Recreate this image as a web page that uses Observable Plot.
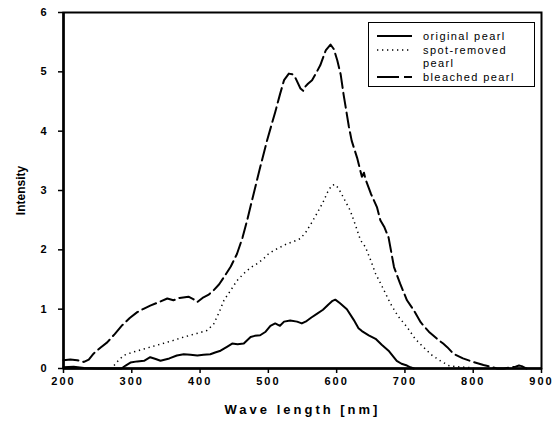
<!DOCTYPE html>
<html>
<head>
<meta charset="utf-8">
<script src="https://cdn.jsdelivr.net/npm/d3@7"></script>
<script src="https://cdn.jsdelivr.net/npm/@observablehq/plot@0.6"></script>
<style>
  html, body { margin: 0; padding: 0; background: #fff; }
  #wrap { position: relative; width: 553px; height: 428px; }
  g[aria-label="x-axis tick label"] text { letter-spacing: 2px; }
  g[aria-label="x-axis label"] text { font-size: 13px; letter-spacing: 3px; }
  g[aria-label="y-axis label"] text { font-size: 12px; }
  #legend { position: absolute; left: 368px; top: 22px; width: 167px; height: 65px;
    border: 1px solid #000; background: #fff; box-sizing: border-box;
    font-family: Arial, "Liberation Sans", sans-serif; font-size: 11px; letter-spacing: 1.4px; color: #000; }
  #legend svg { position: absolute; left: 8px; }
  #legend span { position: absolute; left: 54px; white-space: nowrap; line-height: 13px; }
</style>
</head>
<body>
<div id="wrap"></div>
<script>
// Wavelength (nm) / intensity points, per series
const originalX = [200,215,230,250,270,285,291,298,308,318,327,335,342,355,366,376,386,396,405,415,422,430,440,447,455,464,474,480,488,496,503,510,517,523,532,542,549,556,563,571,580,588,594,598,605,615,625,632,637,647,657,666,676,683,688,695,703,708,713];
const originalY = [0.02,0.03,0.01,0.0,0.0,0.0,0.05,0.10,0.12,0.13,0.19,0.16,0.13,0.17,0.22,0.24,0.23,0.22,0.23,0.24,0.27,0.30,0.37,0.42,0.41,0.42,0.53,0.55,0.56,0.62,0.72,0.76,0.72,0.79,0.81,0.79,0.76,0.80,0.86,0.92,0.99,1.08,1.14,1.16,1.10,1.00,0.82,0.68,0.63,0.56,0.50,0.40,0.30,0.20,0.13,0.08,0.05,0.02,0.0];

const spotX = [274,280,288,300,315,327,345,360,376,395,410,420,428,435,445,454,464,474,484,493,500,508,515,527,537,547,555,563,571,580,587,593,598,603,610,620,628,635,642,650,657,668,679,690,703,715,727,740,752,764,775,790,800];
const spotY = [0.05,0.13,0.22,0.27,0.32,0.36,0.42,0.47,0.53,0.59,0.64,0.75,0.95,1.15,1.32,1.48,1.60,1.70,1.77,1.85,1.93,1.99,2.03,2.10,2.14,2.19,2.30,2.45,2.61,2.80,2.98,3.09,3.10,3.03,2.88,2.66,2.40,2.16,2.05,1.82,1.60,1.35,1.09,0.88,0.70,0.50,0.36,0.22,0.13,0.05,0.03,0.02,0.01];

const bleachedX = [200,210,220,230,237,244,254,264,275,286,297,308,318,327,340,352,361,370,383,390,396,405,412,420,428,435,445,454,462,469,476,488,498,510,517,523,530,535,540,547,551,554,558,564,570,576,584,591,596,601,606,610,618,622,630,637,640,642,650,659,664,670,676,684,693,703,713,723,735,747,756,762,771,785,800,815,825,835,845,855,862,867,871,876,878];
const bleachedY = [0.14,0.15,0.14,0.11,0.15,0.25,0.35,0.44,0.58,0.73,0.85,0.95,1.01,1.06,1.12,1.18,1.15,1.19,1.21,1.17,1.12,1.20,1.24,1.32,1.42,1.54,1.72,1.93,2.20,2.50,2.83,3.39,3.84,4.32,4.62,4.86,4.97,4.96,4.89,4.72,4.68,4.75,4.80,4.86,4.98,5.11,5.36,5.46,5.38,5.19,4.95,4.63,4.07,3.84,3.55,3.23,3.30,3.20,2.95,2.72,2.50,2.38,2.21,1.71,1.43,1.15,0.98,0.78,0.62,0.50,0.42,0.36,0.25,0.17,0.11,0.06,0.03,0.0,0.0,0.02,0.03,0.05,0.04,0.01,0.0];

const xTicks = [200,300,400,500,600,700,800,900];
const yTicks = [0,1,2,3,4,5,6];
const seriesNames = ["original pearl", "spot-removed\npearl", "bleached pearl"];

const toRows = (xs, ys) => xs.map((x, i) => ({x, y: ys[i]}));
const original = toRows(originalX, originalY);
const spot = toRows(spotX, spotY);
const bleached = toRows(bleachedX, bleachedY);

const chart = Plot.plot({
  width: 553, height: 428,
  marginLeft: 63, marginRight: 12, marginTop: 12, marginBottom: 60,
  style: { fontFamily: "Arial, 'Liberation Sans', sans-serif", fontSize: "11px", fontWeight: "bold", background: "#fff", color: "#000" },
  x: { domain: [200, 900] },
  y: { domain: [0, 6] },
  marks: [
    Plot.axisX({ ticks: xTicks, tickFormat: "d", tickSize: 5, tickPadding: 4, label: "Wave length [nm]", labelAnchor: "center", labelOffset: 45, labelArrow: "none", strokeWidth: 1.5 }),
    Plot.axisY({ ticks: yTicks, tickFormat: "d", tickSize: 5, tickPadding: 12, label: "Intensity", labelAnchor: "center", labelOffset: 47, labelArrow: "none", strokeWidth: 1.5 }),
    Plot.line(original, { x: "x", y: "y", stroke: "#000", strokeWidth: 2 }),
    Plot.line(spot, { x: "x", y: "y", stroke: "#000", strokeWidth: 1.5, strokeDasharray: "1.3,3.7", strokeLinecap: "butt" }),
    Plot.line(bleached, { x: "x", y: "y", stroke: "#000", strokeWidth: 2, strokeDasharray: "15,5" }),
    Plot.frame({ stroke: "#000", strokeWidth: 2 }),
    Plot.ruleX([200], { stroke: "#000", strokeWidth: 2.5 }),
    Plot.ruleY([0], { stroke: "#000", strokeWidth: 2.5 })
  ]
});
const wrap = document.getElementById("wrap");
wrap.appendChild(chart);

// Legend (HTML overlay inside the plot frame)
const legend = document.createElement("div");
legend.id = "legend";
const rows = [
  { dash: null, w: 2, top: 8, text: seriesNames[0] },
  { dash: "1.3,3.7", w: 1.5, top: 22, text: seriesNames[1] },
  { dash: "22,5,8,100", w: 2, top: 49, text: seriesNames[2] }
];
rows.forEach(r => {
  const svg = d3.create("svg").attr("width", 36).attr("height", 10)
    .style("top", (r.top) + "px");
  svg.append("line").attr("x1", 0).attr("x2", 35).attr("y1", 5).attr("y2", 5)
    .attr("stroke", "#000").attr("stroke-width", r.w)
    .attr("stroke-dasharray", r.dash);
  legend.appendChild(svg.node());
  const span = document.createElement("span");
  span.style.top = (r.top - 1) + "px";
  span.innerHTML = r.text.replace("\n", "<br>");
  legend.appendChild(span);
});
wrap.appendChild(legend);
</script>
</body>
</html>
